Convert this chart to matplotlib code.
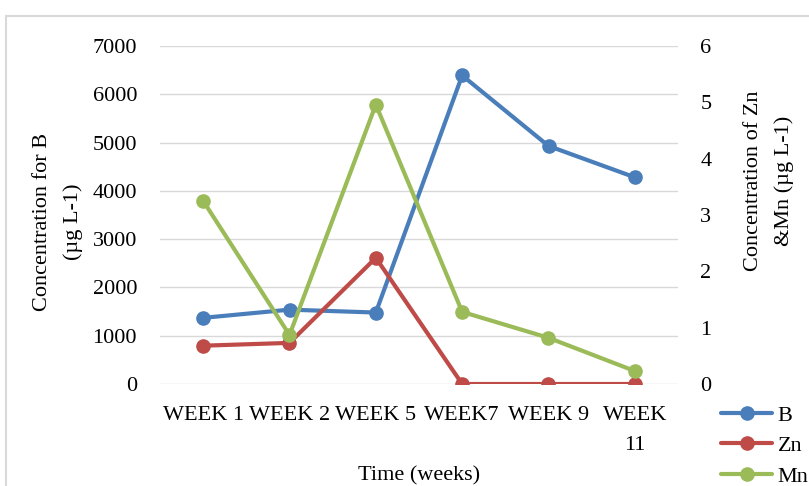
import matplotlib
matplotlib.use("Agg")
import matplotlib.pyplot as plt
from matplotlib.patches import Rectangle

# Sampling weeks and measured concentrations
weeks = ["WEEK 1", "WEEK 2", "WEEK 5", "WEEK7", "WEEK 9", "WEEK\n11"]
boron = [1370, 1540, 1480, 6390, 4930, 4280]        # µg L-1, left axis
zinc = [0.68, 0.73, 2.24, 0.0, 0.0, 0.0]             # µg L-1, right axis
manganese = [3.25, 0.87, 4.96, 1.28, 0.82, 0.23]     # µg L-1, right axis

left_ticks = [0, 1000, 2000, 3000, 4000, 5000, 6000, 7000]
right_ticks = [0, 1, 2, 3, 4, 5, 6]

plt.rcParams["font.family"] = ["Liberation Serif", "DejaVu Serif"]
plt.rcParams["font.size"] = 16

W, H = 809, 486
fig = plt.figure(figsize=(W / 100, H / 100), dpi=100)

# chart-area frame (continues past the right and bottom edges)
fig.patches.append(Rectangle((6 / W, -0.1), 1.2, 1 - 16 / H + 0.1,
                             transform=fig.transFigure, fill=False,
                             edgecolor="#D9D9D9", linewidth=1.5, zorder=0))

ax = fig.add_axes([160 / W, 1 - 384 / H, (678 - 160) / W, (384 - 46) / H])
ax2 = ax.twinx()

blue, red, green = "#4A7EBB", "#BE4B48", "#9BBB59"
x = list(range(len(weeks)))
lkw = dict(linewidth=3.0, marker="o", markersize=9.5, solid_capstyle="round")

lb, = ax.plot(x, boron, color=blue, label="B", zorder=3, **lkw)
lz, = ax2.plot(x, zinc, color=red, label="Zn", zorder=3, **lkw)
lm, = ax2.plot(x, manganese, color=green, label="Mn", zorder=4, **lkw)

ax.set_xlim(-0.5, len(weeks) - 0.5)
ax.set_ylim(0, 7000)
ax2.set_ylim(0, 6)
ax.set_yticks(left_ticks)
ax2.set_yticks(right_ticks)
ax.set_xticks(x)
ax.set_xticklabels(weeks, linespacing=1.75, va="top")

ax.grid(axis="y", color="#D9D9D9", linewidth=1.0)
ax.set_axisbelow(True)
for a in (ax, ax2):
    for s in a.spines.values():
        s.set_visible(False)
    a.tick_params(length=0)
ax.tick_params(axis="y", pad=16.5)
ax.tick_params(axis="x", pad=16)
ax2.tick_params(axis="y", pad=16)

ax.set_xlabel("Time (weeks)")
ax.set_ylabel("Concentration for B\n(µg L-1)", linespacing=1.8)
ax.yaxis.set_label_coords(-0.148, 0.48)
ax2.set_ylabel("Concentration of Zn\n&Mn (µg L-1)", linespacing=1.75)
ax2.yaxis.set_label_coords(1.127, 0.6)
ax.xaxis.set_label_coords(0.5, -0.244)

fig.legend(handles=[lb, lz, lm], loc="upper left",
           bbox_to_anchor=(721 / W, 1 - 405 / H), frameon=False,
           handlelength=2.3, handletextpad=0.25, labelspacing=0.45,
           borderaxespad=0, borderpad=0)

fig.savefig("out.png", dpi=100)
